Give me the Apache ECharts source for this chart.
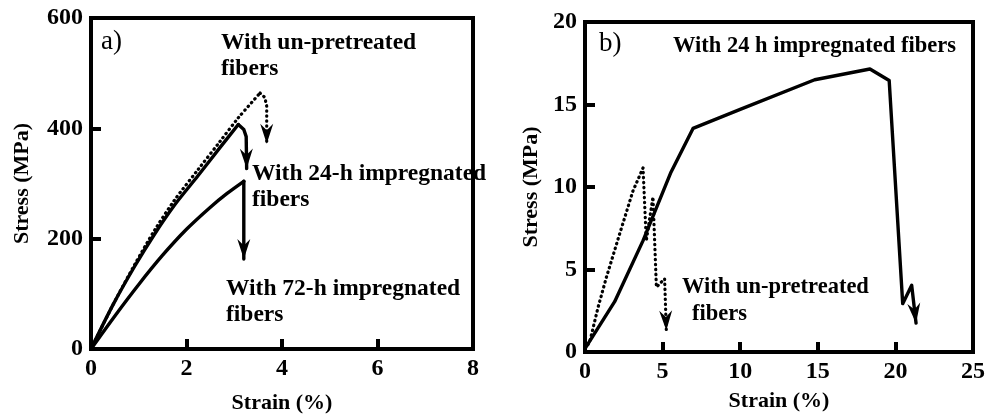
<!DOCTYPE html>
<html>
<head>
<meta charset="utf-8">
<script src="https://cdn.jsdelivr.net/npm/echarts@6/dist/echarts.min.js"></script>
<style>
  html, body { margin: 0; padding: 0; background: #fff; }
  #chart { width: 993px; height: 419px; }
</style>
</head>
<body>
<div id="chart"></div>
<script>
// ---- Panel a) : composite tensile curves, strain (%) vs stress (MPa) ----
const aXTicks = [0, 2, 4, 6, 8];
const aYTicks = [0, 200, 400, 600];

// un-pretreated fibers (dotted)
const aRawStrain = [0, 0.46, 0.915, 1.33, 1.75, 2.24, 2.7, 3.085, 3.54];
const aRawStress = [0, 80, 153, 215, 270, 325, 376, 419, 464];
const aRawDropStrain = [3.54, 3.64, 3.68, 3.68];
const aRawDropStress = [464, 456, 440, 372];

// 24-h impregnated fibers (solid, upper)
const a24Strain = [0, 0.46, 0.915, 1.33, 1.75, 2.24, 2.7, 3.085];
const a24Stress = [0, 80, 150, 208, 261, 314, 365, 407];
const a24DropStrain = [3.085, 3.2, 3.25, 3.26];
const a24DropStress = [407, 398, 385, 327];

// 72-h impregnated fibers (solid, lower)
const a72Strain = [0, 0.5, 1, 1.5, 2, 2.5, 2.85, 3.2];
const a72Stress = [0, 60, 117, 170, 217, 257, 282, 304];
const a72DropStrain = [3.2, 3.2];
const a72DropStress = [304, 163];

// ---- Panel b) ----
const bXTicks = [0, 5, 10, 15, 20, 25];
const bYTicks = [0, 5, 10, 15, 20];

// 24 h impregnated fibers (solid)
const b24Strain = [0, 1.91, 3.74, 5.54, 6.96, 10, 14.8, 18.36, 19.6, 20.47, 21.05, 21.33];
const b24Stress = [0.2, 3.05, 6.75, 10.9, 13.55, 14.7, 16.5, 17.15, 16.45, 2.93, 4.04, 1.75];

// un-pretreated fibers (dotted)
const bRawStrain = [0, 0.3, 0.84, 1.37, 2.23, 3.09, 3.74, 3.95, 4.38, 4.6, 5.13, 5.24];
const bRawStress = [0.2, 0.6, 2.7, 4.5, 7.15, 9.76, 11.16, 6.75, 9.4, 3.93, 4.44, 1.3];

const zip = (xs, ys) => xs.map((x, i) => [x, ys[i]]);

const SERIF = '"Liberation Serif", "Times New Roman", serif';
const solid = { color: '#000', width: 3.4, type: 'solid', cap: 'round', join: 'round' };
const dotted = { color: '#000', width: 3.2, type: [0.5, 4.5], cap: 'round', join: 'round' };

function axisCommon(ticks) {
  return {
    min: ticks[0],
    max: ticks[ticks.length - 1],
    interval: ticks[1] - ticks[0],
    splitLine: { show: false },
    axisLine: { show: true, lineStyle: { color: '#000', width: 4 } },
    axisTick: { show: true, inside: true, length: 10, lineStyle: { color: '#000', width: 4 } },
    axisLabel: { color: '#000', fontFamily: SERIF, fontWeight: 'bold', fontSize: 24, margin: 8 },
    nameTextStyle: { color: '#000', fontFamily: SERIF, fontWeight: 'bold', fontSize: 22 },
    nameLocation: 'middle'
  };
}

function curve(name, xi, yi, xs, ys, style, smooth) {
  return {
    type: 'line', name, xAxisIndex: xi, yAxisIndex: yi,
    data: zip(xs, ys), smooth: smooth || false, symbol: 'none',
    lineStyle: style, silent: true
  };
}

// Arrowheads at the end of each failure path: tip = last point, direction from the point before it.
function arrowHeads(xi, yi, paths) {
  const data = paths.map(([xs, ys]) => {
    const n = xs.length;
    return [xs[n - 1], ys[n - 1], xs[n - 2], ys[n - 2]];
  });
  return {
    type: 'custom', coordinateSystem: 'cartesian2d', xAxisIndex: xi, yAxisIndex: yi,
    silent: true, clip: false,
    data,
    encode: { x: 0, y: 1 },
    renderItem(params, api) {
      const tip = api.coord([api.value(0), api.value(1)]);
      const from = api.coord([api.value(2), api.value(3)]);
      let dx = tip[0] - from[0], dy = tip[1] - from[1];
      const len = Math.hypot(dx, dy) || 1;
      dx /= len; dy /= len;
      const L = 20, W = 6.5, notch = 0.68;
      const px = -dy, py = dx;
      const points = [
        [tip[0], tip[1]],
        [tip[0] - dx * L + px * W, tip[1] - dy * L + py * W],
        [tip[0] - dx * L * notch, tip[1] - dy * L * notch],
        [tip[0] - dx * L - px * W, tip[1] - dy * L - py * W]
      ];
      return { type: 'polygon', shape: { points }, style: { fill: '#000' } };
    }
  };
}

function note(text, left, top, size) {
  return { type: 'text', left, top, silent: true,
    style: { text, font: 'bold ' + size + 'px ' + SERIF, fill: '#000', lineHeight: 26 } };
}

const chart = echarts.init(document.getElementById('chart'), null, { renderer: 'canvas' });
chart.setOption({
  animation: false,
  backgroundColor: '#fff',
  grid: [
    { left: 91, top: 18, width: 382, height: 335, show: true, borderColor: '#000', borderWidth: 4 },
    { left: 585, top: 22, width: 388, height: 330, show: true, borderColor: '#000', borderWidth: 4 }
  ],
  xAxis: [
    Object.assign(axisCommon(aXTicks), { gridIndex: 0, type: 'value', name: 'Strain (%)', nameGap: 43 }),
    Object.assign(axisCommon(bXTicks), { gridIndex: 1, type: 'value', name: 'Strain (%)', nameGap: 38 })
  ],
  yAxis: [
    Object.assign(axisCommon(aYTicks), { gridIndex: 0, type: 'value', name: 'Stress (MPa)', nameGap: 58 }),
    Object.assign(axisCommon(bYTicks), { gridIndex: 1, type: 'value', name: 'Stress (MPa)', nameGap: 43 })
  ],
  series: [
    curve('With un-pretreated fibers', 0, 0, aRawStrain, aRawStress, dotted, 0.3),
    curve('With un-pretreated fibers', 0, 0, aRawDropStrain, aRawDropStress, dotted),
    curve('With 24-h impregnated fibers', 0, 0, a24Strain, a24Stress, solid, 0.3),
    curve('With 24-h impregnated fibers', 0, 0, a24DropStrain, a24DropStress, solid),
    curve('With 72-h impregnated fibers', 0, 0, a72Strain, a72Stress, solid, 0.3),
    curve('With 72-h impregnated fibers', 0, 0, a72DropStrain, a72DropStress, solid),
    arrowHeads(0, 0, [[aRawDropStrain, aRawDropStress], [a24DropStrain, a24DropStress], [a72DropStrain, a72DropStress]]),
    curve('With 24 h impregnated fibers', 1, 1, b24Strain, b24Stress, solid),
    curve('With un-pretreated fibers', 1, 1, bRawStrain, bRawStress, dotted),
    arrowHeads(1, 1, [[b24Strain, b24Stress], [bRawStrain, bRawStress]])
  ],
  graphic: [
    { type: 'text', left: 101, top: 28, silent: true,
      style: { text: 'a)', font: '27px ' + SERIF, fill: '#000' } },
    { type: 'text', left: 599, top: 30, silent: true,
      style: { text: 'b)', font: '27px ' + SERIF, fill: '#000' } },
    note('With un-pretreated\nfibers', 221, 30, 23.5),
    note('With 24-h impregnated\nfibers', 252, 161, 23.5),
    note('With 72-h impregnated\nfibers', 226, 276, 23.5),
    note('With 24 h impregnated fibers', 673, 33, 22.5),
    note('With un-pretreated', 682, 274, 22.5),
    note('fibers', 692, 301, 22.5)
  ]
});
</script>
</body>
</html>
